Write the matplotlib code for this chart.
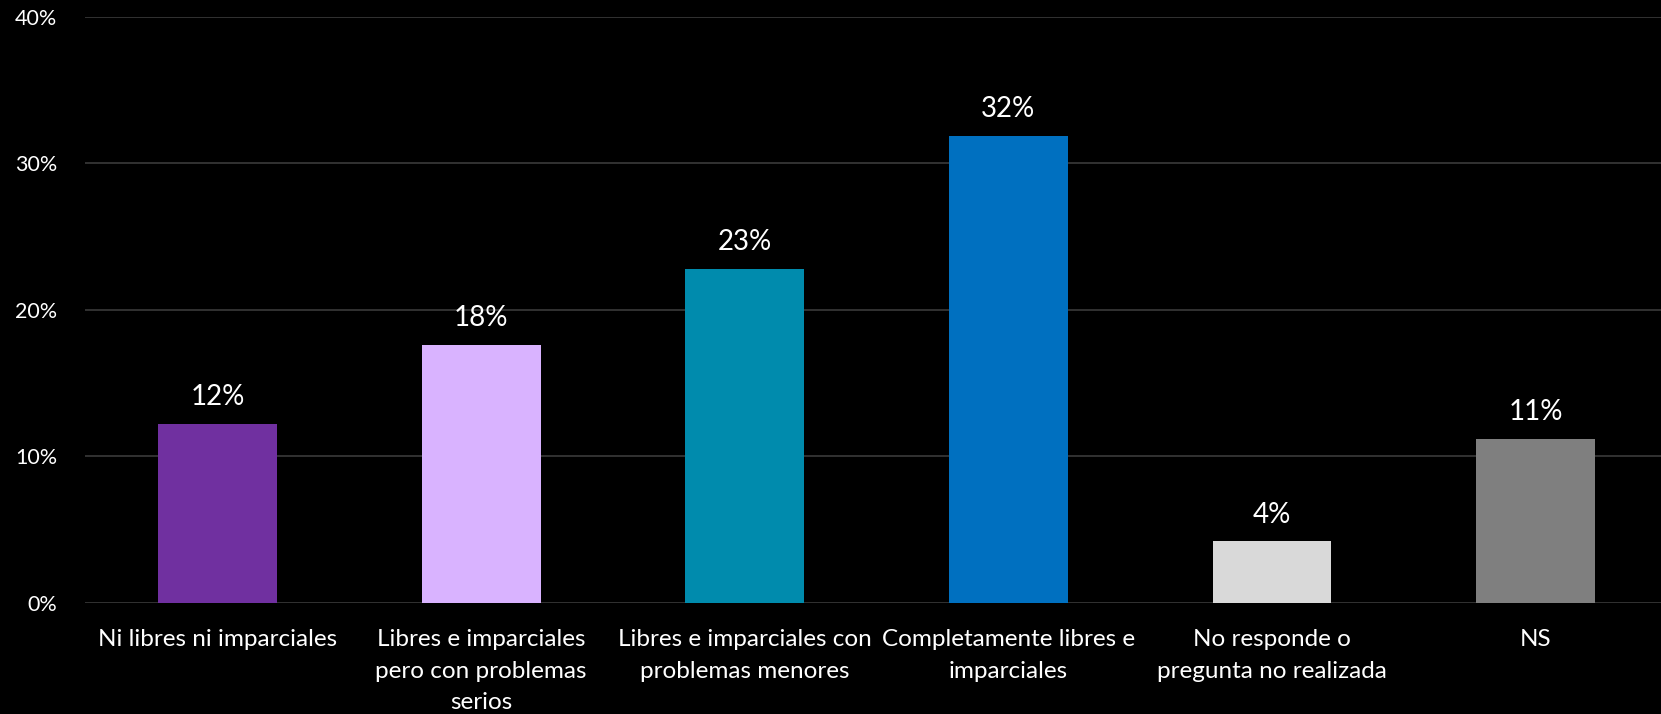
import matplotlib.pyplot as plt
import numpy as np

categories = [
    "Ni libres ni imparciales",
    "Libres e imparciales\npero con problemas\nserios",
    "Libres e imparciales con\nproblemas menores",
    "Completamente libres e\nimparciales",
    "No responde o\npregunta no realizada",
    "NS",
]
values = [12.2, 17.6, 22.8, 31.9, 4.2, 11.2]
labels = ["12%", "18%", "23%", "32%", "4%", "11%"]
colors = ["#7030A0", "#D9B3FF", "#008BAD", "#0070C0", "#D9D9D9", "#7F7F7F"]

plt.rcParams['font.family'] = ['Lato', 'DejaVu Sans']

fig = plt.figure(figsize=(16.61, 7.14), dpi=100, facecolor='black')
ax = fig.add_axes([0.0512, 0.1555, 0.9488, 0.8207], facecolor='black')

x = np.arange(len(categories))
bars = ax.bar(x, values, width=0.45, color=colors, zorder=3)

for xi, v, lab in zip(x, values, labels):
    ax.annotate(lab, (xi, v), xytext=(0, 10), textcoords='offset points',
                ha='center', va='bottom', color='white', fontsize=20)

ax.set_xlim(-0.503, 5.476)
ax.set_ylim(0, 40)
ax.set_yticks([0, 10, 20, 30, 40])
ax.set_yticklabels(["0%", "10%", "20%", "30%", "40%"])
ax.set_xticks(x)
ax.set_xticklabels(categories, linespacing=1.6)

ax.grid(axis='y', color='#3a3a3a', linewidth=1.2, zorder=0)
for s in ax.spines.values():
    s.set_visible(False)
ax.tick_params(axis='y', length=0, pad=20, labelcolor='white', labelsize=15.5)
ax.tick_params(axis='x', length=0, pad=19, labelcolor='white', labelsize=17.5)

fig.savefig('out.png', dpi=100, facecolor='black')
